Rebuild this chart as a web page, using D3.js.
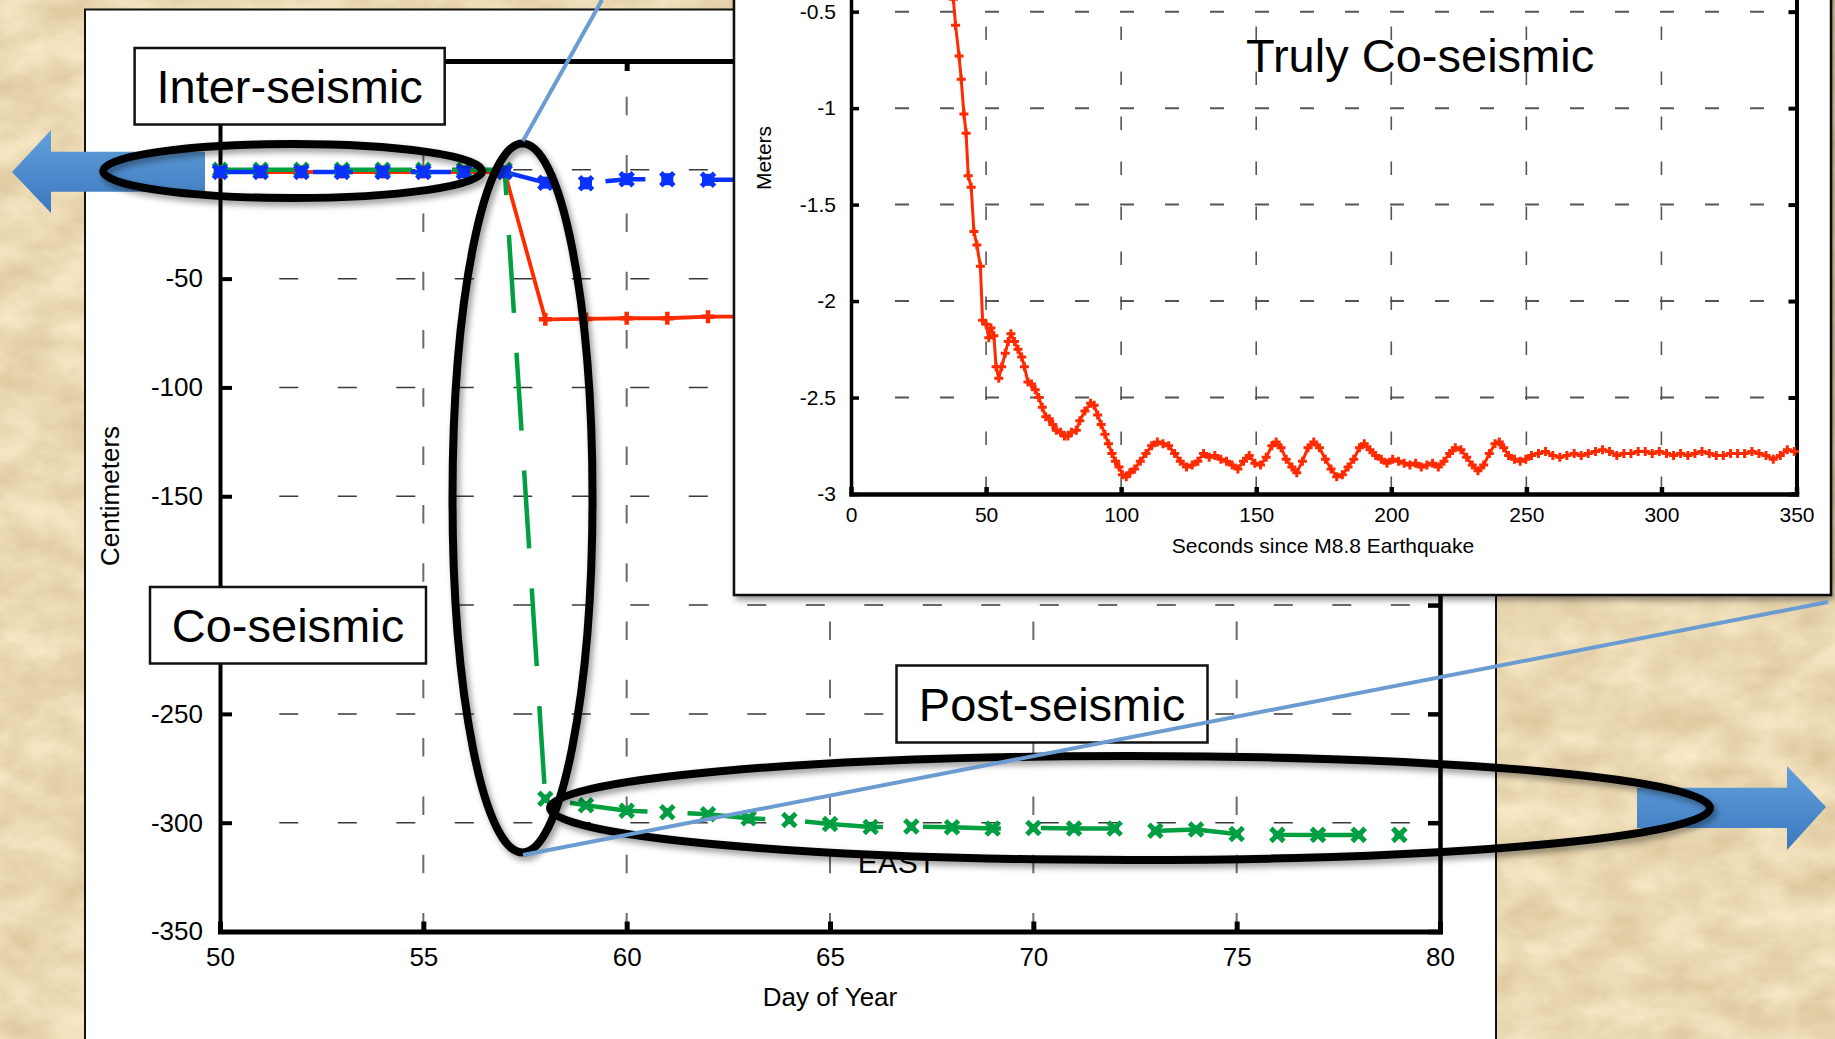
<!DOCTYPE html>
<html>
<head>
<meta charset="utf-8">
<script src="https://cdn.jsdelivr.net/npm/d3@7"></script>
<style>
  html, body { margin: 0; padding: 0; background: #ebd9b3; }
  svg { display: block; }
  text { font-family: "Liberation Sans", Arial, Helvetica, sans-serif; }
</style>
</head>
<body>
<script>
// ---- data ----
var days = [50, 51, 52, 53, 54, 55, 56, 57, 58, 59, 60, 61, 62, 63, 64,
            65, 66, 67, 68, 69, 70, 71, 72, 73, 74, 75, 76, 77, 78, 79];
// green (east) series, cm
var eastCm = [0, 0, 0, 0, 0, 0, 0, 0, -289, -292, -294.5, -295.2, -296.1, -298, -298.8,
              -300.6, -302, -301.8, -302.1, -302.7, -302.4, -302.7, -302.7, -303.7, -303.1,
              -305.2, -305.6, -305.6, -305.6, -305.6];
// red and blue series, only the part not hidden by the inset
var shortDays = [50, 51, 52, 53, 54, 55, 56, 57, 58, 59, 60, 61, 62, 63];
var northCm = [-1, -1, -1, -1, -1, -1, -1, -1, -68.7, -68.5, -68.2, -68.2, -67.5, -67.5];
var upCm = [-1, -1, -1, -1, -1, -1, -1, -1, -5.9, -6.2, -4.3, -4.3, -4.6, -4.6];

var dayTicks = [50, 55, 60, 65, 70, 75, 80];
var cmTicks = [-350, -300, -250, -200, -150, -100, -50, 0, 50];
var cmHidden = [-200, 0, 50];   // labels covered by boxes and the arrow

// inset: seconds since the quake vs metres
var insetSec = [37.9, 38.7, 40, 40.8, 41.8, 42.6, 43.4, 44.5, 45.5, 46.6, 47.9, 48.7, 50, 51, 51.8,
  52.9, 53.7, 54.7, 55.8, 57.1, 58.2, 59.2, 60.5, 61.8, 63.2, 64.2, 65.5, 66.8, 68.2, 69.5,
  70.8, 72.1, 73.4, 74.7, 76, 77.6, 79, 80.3, 81.6, 83.4, 84.7, 86.6, 88.7, 90, 91.3,
  92.6, 94, 95.3, 96.6, 97.9, 99.2, 100.5, 101.9, 103.2, 105, 107.1, 109.2, 111.3, 113.4, 115.5,
  117.6, 119.8, 121.9, 124.2, 126.3, 128.4, 130.5, 132.6, 134.7, 136.9, 139, 141.1, 143.2, 145.3,
  147.4, 149.5, 151.6, 153.7, 155.8, 157.4, 159.2, 161.1, 163.2, 165, 167.1, 169.2, 171.3, 173.4,
  175.6, 177.7, 179.8, 181.9, 184, 186.1, 188.2, 190, 192.1, 194.2, 196.3, 198.4, 200.5, 202.7,
  204.8, 206.9, 209, 211.1, 213.2, 215.3, 217.4, 219.5, 221.6, 223.7, 225.8, 227.9, 230, 232.1,
  234.2, 236.3, 238.4, 240, 241.6, 243.4, 245.6, 247.7, 249.8, 251.9, 254.5, 257.1, 259.8, 262.4,
  265, 267.7, 270.3, 272.9, 275.6, 278.2, 280.8, 283.5, 286.1, 288.7, 291.4, 294, 296.6, 299.2,
  301.9, 304.5, 307.1, 309.8, 312.4, 315, 317.7, 320.3, 322.9, 325.6, 328.2, 330.8, 333.5, 336.1,
  338.7, 341.4, 344, 346.6, 349.2];
var insetM = [-0.435, -0.57, -0.73, -0.85, -1.03, -1.13, -1.35, -1.41, -1.64, -1.71, -1.82, -2.1, -2.12, -2.19, -2.14,
  -2.18, -2.34, -2.4, -2.34, -2.27, -2.21, -2.17, -2.21, -2.25, -2.29, -2.34, -2.42, -2.43, -2.46, -2.5,
  -2.55, -2.6, -2.61, -2.64, -2.67, -2.68, -2.7, -2.7, -2.68, -2.67, -2.62, -2.57, -2.53, -2.54, -2.59,
  -2.64, -2.69, -2.74, -2.79, -2.83, -2.86, -2.9, -2.91, -2.89, -2.87, -2.83, -2.79, -2.75, -2.73, -2.74,
  -2.75, -2.79, -2.83, -2.86, -2.85, -2.83, -2.79, -2.81, -2.8, -2.82, -2.83, -2.85, -2.87, -2.83,
  -2.8, -2.84, -2.85, -2.81, -2.75, -2.73, -2.76, -2.82, -2.86, -2.89, -2.83, -2.76, -2.73, -2.76,
  -2.82, -2.87, -2.91, -2.9, -2.86, -2.82, -2.76, -2.74, -2.77, -2.8, -2.82, -2.84, -2.82, -2.83,
  -2.84, -2.85, -2.84, -2.86, -2.85, -2.84, -2.86, -2.83, -2.79, -2.76, -2.77, -2.81, -2.85, -2.88,
  -2.85, -2.79, -2.74, -2.73, -2.76, -2.8, -2.82, -2.83, -2.82, -2.8, -2.79, -2.78, -2.8, -2.81,
  -2.8, -2.79, -2.8, -2.79, -2.78, -2.77, -2.78, -2.8, -2.79, -2.79, -2.78, -2.78, -2.79, -2.78,
  -2.79, -2.8, -2.79, -2.8, -2.79, -2.78, -2.79, -2.8, -2.8, -2.79, -2.79, -2.79, -2.78, -2.79,
  -2.8, -2.82, -2.8, -2.77, -2.78];
var secTicks = [0, 50, 100, 150, 200, 250, 300, 350];
var meterTicks = [-3, -2.5, -2, -1.5, -1, -0.5, 0];

var FONT = '"Liberation Sans", Arial, Helvetica, sans-serif';
var RED = "#ff2a00", GREEN = "#00a040", BLUE = "#0a32ff", CALLOUT = "#6a9bd1";

function plusPath(r) { return "M" + (-r) + ",0H" + r + "M0," + (-r) + "V" + r; }
function timesPath(r) { return "M" + (-r) + "," + (-r) + "L" + r + "," + r + "M" + (-r) + "," + r + "L" + r + "," + (-r); }

function styleAxis(g, width, size) {
    g.attr("font-family", FONT).attr("font-size", size);
    g.select(".domain").attr("stroke", "#000").attr("stroke-width", width).attr("stroke-linecap", "square");
    g.selectAll(".tick line").attr("stroke", "#000").attr("stroke-width", width);
    g.selectAll(".tick text").attr("fill", "#000");
}

function drawSeries(g, xs, ys, x, y, color, width, dash, offset) {
    var pts = xs.map(function(d, i) { return [x(d), y(ys[i])]; });
    var path = g.append("path")
        .attr("d", d3.line()(pts))
        .attr("fill", "none")
        .attr("stroke", color)
        .attr("stroke-width", width)
        .attr("stroke-linejoin", "round");
    if (dash) path.attr("stroke-dasharray", dash).attr("stroke-dashoffset", offset);
    return pts;
}

function box(g, x0, y0, x1, y1, label) {
    g.append("rect").attr("x", x0).attr("y", y0).attr("width", x1 - x0).attr("height", y1 - y0)
        .attr("fill", "#fff").attr("stroke", "#111").attr("stroke-width", 2.5);
    g.append("text").attr("x", (x0 + x1) / 2).attr("y", (y0 + y1) / 2 + 17)
        .attr("text-anchor", "middle").attr("font-size", 47).text(label);
}

function demo() {
    var svg = d3.select("body").append("svg").attr("width", 1835).attr("height", 1039);
    var defs = svg.append("defs");

    // parchment texture
    var paper = defs.append("filter").attr("id", "paper")
        .attr("x", 0).attr("y", 0).attr("width", "100%").attr("height", "100%")
        .attr("color-interpolation-filters", "sRGB");
    paper.append("feTurbulence").attr("type", "fractalNoise").attr("baseFrequency", "0.02 0.03")
        .attr("numOctaves", 6).attr("seed", 11);
    paper.append("feColorMatrix").attr("type", "matrix")
        .attr("values", "0.15 0 0 0 0.845  0.18 0 0 0 0.76  0.22 0 0 0 0.59  0 0 0 0 1");

    var shadow = defs.append("filter").attr("id", "shadow")
        .attr("x", "-10%").attr("y", "-10%").attr("width", "120%").attr("height", "130%");
    shadow.append("feDropShadow").attr("dx", 3).attr("dy", 4).attr("stdDeviation", 3)
        .attr("flood-color", "#000").attr("flood-opacity", 0.4);

    var grad = defs.append("linearGradient").attr("id", "arrowFill")
        .attr("x1", 0).attr("y1", 0).attr("x2", 0).attr("y2", 1);
    grad.append("stop").attr("offset", "0%").attr("stop-color", "#62a0dc");
    grad.append("stop").attr("offset", "100%").attr("stop-color", "#3b78be");

    svg.append("rect").attr("width", 1835).attr("height", 1039).attr("filter", "url(#paper)");

    // ---- main panel ----
    svg.append("rect").attr("x", 85).attr("y", 9.5).attr("width", 1411).attr("height", 1060)
        .attr("fill", "#fff").attr("stroke", "#111").attr("stroke-width", 2);

    var x = d3.scaleLinear().domain([50, 80]).range([220, 1440]);
    var y = d3.scaleLinear().domain([-350, 50]).range([931.5, 61]);

    var grid = svg.append("g");
    grid.selectAll("line.h")
        .data(cmTicks.filter(function(d) { return d > -350 && d < 50; }))
        .enter().append("line")
        .attr("x1", 240).attr("x2", 1440)
        .attr("y1", y).attr("y2", y)
        .attr("stroke", "#3a3a3a").attr("stroke-width", 1.5)
        .attr("stroke-dasharray", "19,39.5").attr("stroke-dashoffset", 19.2);
    grid.selectAll("line.v")
        .data(dayTicks.filter(function(d) { return d > 50 && d < 80; }))
        .enter().append("line")
        .attr("x1", x).attr("x2", x)
        .attr("y1", 931.5).attr("y2", 61)
        .attr("stroke", "#6a6a6a").attr("stroke-width", 2)
        .attr("stroke-dasharray", "18.5,39.8");

    var noLabel = function() { return ""; };
    var gl = svg.append("g").attr("transform", "translate(220,0)")
        .call(d3.axisLeft(y).tickValues(cmTicks).tickSizeInner(-12).tickSizeOuter(0).tickPadding(17)
            .tickFormat(function(d) { return cmHidden.indexOf(d) >= 0 ? "" : String(d); }));
    styleAxis(gl, 4, 26);
    var gb = svg.append("g").attr("transform", "translate(0,931.5)")
        .call(d3.axisBottom(x).tickValues(dayTicks).tickSizeInner(-10).tickSizeOuter(0).tickPadding(16)
            .tickFormat(function(d) { return String(d); }));
    styleAxis(gb, 5, 26);
    var gr = svg.append("g").attr("transform", "translate(1440,0)")
        .call(d3.axisRight(y).tickValues(cmTicks).tickSizeInner(-12).tickSizeOuter(0).tickFormat(noLabel));
    styleAxis(gr, 4.5, 26);
    var gt = svg.append("g").attr("transform", "translate(0,61)")
        .call(d3.axisTop(x).tickValues(dayTicks).tickSizeInner(-10).tickSizeOuter(0).tickFormat(noLabel));
    styleAxis(gt, 5, 26);

    // ---- series ----
    var series = svg.append("g");
    var redPts = drawSeries(series, shortDays, northCm, x, y, RED, 3.8, null, 0);
    series.selectAll("path.rm").data(redPts).enter().append("path")
        .attr("transform", function(d) { return "translate(" + d + ")"; })
        .attr("d", plusPath(6.5)).attr("stroke", RED).attr("stroke-width", 4.5);
    var greenPts = drawSeries(series, days, eastCm, x, y, GREEN, 4.5, "78,40", 4);
    var bluePts = drawSeries(series, shortDays, upCm, x, y, BLUE, 4.5, "40,58", 5);

    var gm = series.selectAll("g.gm").data(greenPts).enter().append("g")
        .attr("transform", function(d) { return "translate(" + d + ")"; });
    gm.append("rect").attr("x", -4).attr("y", -4).attr("width", 8).attr("height", 8).attr("fill", BLUE);
    gm.append("path").attr("d", timesPath(6.5)).attr("stroke", GREEN).attr("stroke-width", 5);

    var bm = series.selectAll("g.bm").data(bluePts).enter().append("g")
        .attr("transform", function(d) { return "translate(" + d + ")"; });
    bm.append("rect").attr("x", -6).attr("y", -6).attr("width", 12).attr("height", 12).attr("fill", BLUE);
    bm.append("path").attr("d", timesPath(6.5)).attr("stroke", BLUE).attr("stroke-width", 5);

    // axis titles
    svg.append("text").attr("x", 830).attr("y", 1006).attr("text-anchor", "middle")
        .attr("font-size", 26).text("Day of Year");
    svg.append("text").attr("transform", "translate(119,496) rotate(-90)").attr("text-anchor", "middle")
        .attr("font-size", 26).text("Centimeters");
    svg.append("text").attr("x", 897).attr("y", 873).attr("text-anchor", "middle")
        .attr("font-size", 30).text("EAST");

    // ---- arrows ----
    svg.append("path")
        .attr("d", "M205,151.7H51V130L12,172L51,213V191.7H205Z")
        .attr("fill", "url(#arrowFill)");
    svg.append("path")
        .attr("d", "M1637,787.7H1787V766L1826,807L1787,850V828H1637Z")
        .attr("fill", "url(#arrowFill)");

    // ---- inset ----
    var inset = svg.append("g");
    inset.append("rect").attr("x", 734).attr("y", -20).attr("width", 1097).attr("height", 615)
        .attr("fill", "#fff").attr("stroke", "#111").attr("stroke-width", 2.5)
        .attr("filter", "url(#shadow)");

    var sx = d3.scaleLinear().domain([0, 350]).range([851, 1796.5]);
    var sy = d3.scaleLinear().domain([-3, 0]).range([494, -84.8]);

    inset.selectAll("line.h")
        .data(meterTicks.filter(function(d) { return d > -3 && d < 0; }))
        .enter().append("line")
        .attr("x1", 871).attr("x2", 1796.5).attr("y1", sy).attr("y2", sy)
        .attr("stroke", "#555").attr("stroke-width", 2)
        .attr("stroke-dasharray", "14,31").attr("stroke-dashoffset", 21);
    inset.selectAll("line.v")
        .data(secTicks.filter(function(d) { return d > 0 && d < 350; }))
        .enter().append("line")
        .attr("x1", sx).attr("x2", sx).attr("y1", 494).attr("y2", -90)
        .attr("stroke", "#555").attr("stroke-width", 1.6)
        .attr("stroke-dasharray", "13.5,31.5").attr("stroke-dashoffset", 41);

    // the 0 m tick lies above the top edge of the picture
    var visibleM = meterTicks.filter(function(d) { return d < 0; });
    var il = inset.append("g").attr("transform", "translate(851,0)")
        .call(d3.axisLeft(sy).tickValues(visibleM).tickSizeInner(-8).tickSizeOuter(0).tickPadding(15)
            .tickFormat(function(d) { return String(d); }));
    styleAxis(il, 3.5, 21);
    var ib = inset.append("g").attr("transform", "translate(0,494)")
        .call(d3.axisBottom(sx).tickValues(secTicks).tickSizeInner(-7).tickSizeOuter(0).tickPadding(13.5)
            .tickFormat(function(d) { return String(d); }));
    styleAxis(ib, 4.5, 21);
    var ir = inset.append("g").attr("transform", "translate(1796.5,0)")
        .call(d3.axisRight(sy).tickValues(visibleM).tickSizeInner(-8).tickSizeOuter(0).tickFormat(noLabel));
    styleAxis(ir, 4, 21);

    var insetPts = drawSeries(inset, insetSec, insetM, sx, sy, RED, 3, null, 0);
    inset.selectAll("path.im").data(insetPts).enter().append("path")
        .attr("transform", function(d) { return "translate(" + d + ")"; })
        .attr("d", plusPath(4.5)).attr("stroke", RED).attr("stroke-width", 3);

    inset.append("text").attr("x", 1323).attr("y", 553).attr("text-anchor", "middle")
        .attr("font-size", 21).text("Seconds since M8.8 Earthquake");
    inset.append("text").attr("transform", "translate(771,158) rotate(-90)").attr("text-anchor", "middle")
        .attr("font-size", 21).text("Meters");
    inset.append("text").attr("x", 1246).attr("y", 72).attr("font-size", 47).text("Truly Co-seismic");

    // ---- annotation boxes ----
    var notes = svg.append("g");
    box(notes, 134.6, 48, 444.7, 124.5, "Inter-seismic");
    box(notes, 150, 587, 426, 663.5, "Co-seismic");
    box(notes, 896.5, 665.5, 1207.5, 742.5, "Post-seismic");

    // ---- ellipses ----
    var rings = svg.append("g").attr("fill", "none").attr("stroke", "#000").attr("stroke-width", 8)
        .attr("filter", "url(#shadow)");
    rings.append("ellipse").attr("cx", 292.6).attr("cy", 171).attr("rx", 189.5).attr("ry", 27);
    rings.append("ellipse").attr("cx", 522.5).attr("cy", 498).attr("rx", 70).attr("ry", 354.5);
    rings.append("ellipse").attr("cx", 1130).attr("cy", 808).attr("rx", 580).attr("ry", 52);

    // ---- callout lines ----
    svg.append("line").attr("x1", 523).attr("y1", 141).attr("x2", 602).attr("y2", 0)
        .attr("stroke", CALLOUT).attr("stroke-width", 4);
    svg.append("line").attr("x1", 523).attr("y1", 855).attr("x2", 1828).attr("y2", 602)
        .attr("stroke", CALLOUT).attr("stroke-width", 4);
}

demo();
</script>
</body>
</html>
